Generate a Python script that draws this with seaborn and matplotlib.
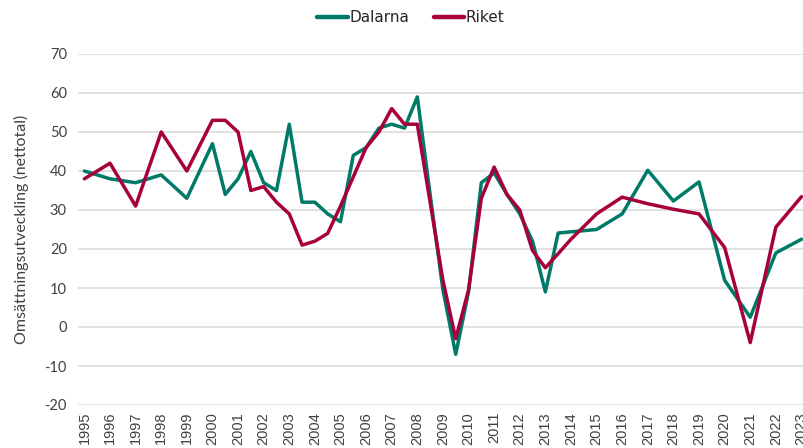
import numpy as np
import pandas as pd
import matplotlib
matplotlib.use("Agg")
import matplotlib.pyplot as plt
import seaborn as sns

# survey periods (annual until 2000, half-yearly 2000-2013, then annual)
period = [1995, 1996, 1997, 1998, 1999, 2000, 2000.5, 2001, 2001.5, 2002,
          2002.5, 2003, 2003.5, 2004, 2004.5, 2005, 2005.5, 2006, 2006.5, 2007,
          2007.5, 2008, 2008.5, 2009, 2009.5, 2010, 2010.5, 2011, 2011.5, 2012,
          2012.5, 2013, 2013.5, 2014, 2015, 2016, 2017, 2018, 2019, 2020,
          2021, 2022, 2023]

dalarna = [40, 38, 37, 39, 33, 47, 34, 38, 45, 37,
           35, 52, 32, 32, 29, 27, 44, 46, 51, 52,
           51, 59, 34, 9.5, -7, 9, 37, 39.5, 34, 29,
           22, 9, 24.1, 24.4, 25, 29, 40.2, 32.3, 37.2, 12,
           2.5, 19, 22.5]

riket = [38, 42, 31, 50, 40, 53, 53, 50, 35, 36,
         32, 29, 21, 22, 24, 31, 38.5, 46, 50, 56,
         52, 52, 32, 12, -3, 9.5, 33, 41, 34, 30,
         19.6, 15.2, 18.8, 22.5, 29, 33.3, 31.6, 30.2, 29, 20.4,
         -4, 25.6, 33.4]

years = list(range(1995, 2024))

df = pd.concat([
    pd.DataFrame({"period": period, "value": dalarna, "region": "Dalarna"}),
    pd.DataFrame({"period": period, "value": riket, "region": "Riket"}),
])

sns.set_style("white")
plt.rcParams['font.family'] = ['Lato', 'DejaVu Sans']
plt.rcParams['axes.unicode_minus'] = False

fig = plt.figure(figsize=(8.04, 4.48), dpi=100)
ax = fig.add_axes([78 / 804, 1 - 405 / 448, 1 - 78 / 804, (405 - 54) / 448])

sns.lineplot(data=df, x="period", y="value", hue="region",
             palette={"Dalarna": "#007a68", "Riket": "#a8003c"},
             linewidth=2.5, sort=False, estimator=None, ax=ax, legend=False)

ax.set_xlim(1994.75, 2023.1)
ax.set_ylim(-20, 70)
ax.set_yticks(range(-20, 71, 10))
ax.set_xticks(years)
ax.set_xticklabels([str(y) for y in years], rotation=90,
                   fontfamily='Liberation Sans', fontsize=10.5, color='#404040')
ax.tick_params(axis='y', labelsize=10.5, colors='#404040', pad=8, length=0)
ax.tick_params(axis='x', length=0, pad=5)
ax.grid(axis='y', color='#d9d9d9', linewidth=1.1)
ax.set_axisbelow(True)
for s in ax.spines.values():
    s.set_visible(False)
ax.set_xlabel("")
ax.set_ylabel("Omsättningsutveckling (nettotal)", fontsize=11.5, color='#404040',
              labelpad=11)

handles = [plt.Line2D([], [], color="#007a68", lw=3.2),
           plt.Line2D([], [], color="#a8003c", lw=3.2)]
fig.legend(handles, ["Dalarna", "Riket"], loc='center', ncol=2,
           bbox_to_anchor=(411 / 804, 1 - 18 / 448), frameon=False,
           handlelength=2.0, handletextpad=0.1, columnspacing=1.6,
           prop={'family': 'Liberation Sans Narrow', 'size': 11})

fig.savefig("out.png", dpi=100)
